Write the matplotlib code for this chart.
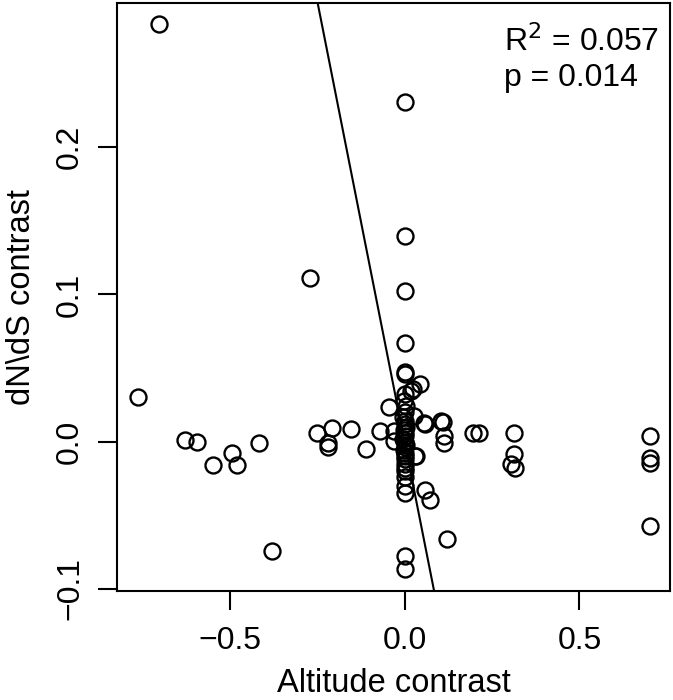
import matplotlib
matplotlib.use("Agg")
import matplotlib.pyplot as plt

plt.rcParams['font.family'] = ['Liberation Sans', 'DejaVu Sans']

# points off the x=0 column
alt_side = [-0.763, -0.703, -0.629, -0.593, -0.548, -0.492, -0.478, -0.416, -0.378,
            -0.271, -0.249, -0.208, -0.219, -0.219, -0.152, -0.111, -0.071, -0.043,
            -0.029, -0.029, 0.019, 0.024, 0.026, 0.029, 0.033, 0.043, 0.057, 0.058,
            0.058, 0.073, 0.105, 0.110, 0.113, 0.114, 0.122, 0.195, 0.214,
            0.314, 0.314, 0.305, 0.316, 0.702, 0.702, 0.702, 0.702]
dnds_side = [0.0301, 0.2837, 0.0012, 0.0000, -0.0161, -0.0080, -0.0159, -0.0011, -0.0746,
             0.1110, 0.0061, 0.0091, -0.0009, -0.0039, 0.0088, -0.0050, 0.0075, 0.0233,
             0.0075, 0.0007, 0.0347, 0.0358, 0.0177, -0.0095, -0.0095, 0.0392, 0.0125, 0.0120,
             -0.0327, -0.0395, 0.0138, 0.0131, 0.0041, -0.0010, -0.0662, 0.0058, 0.0058,
             0.0059, -0.0084, -0.0152, -0.0179, 0.0041, -0.0111, -0.0147, -0.0571]

# dense column at altitude contrast ~ 0
alt_col = [0.0, 0.0, 0.0, 0.0, 0.0, 0.0, 0.002, -0.002, 0.003, 0.0, -0.003, 0.002,
           0.0, 0.003, -0.002, 0.0, 0.002, -0.003, 0.0, 0.003, 0.0, -0.002, 0.002,
           0.0, 0.0, 0.0, 0.0, 0.0, 0.0, 0.0, 0.0, 0.0, 0.0]
dnds_col = [0.2306, 0.1395, 0.1020, 0.0669, 0.0476, 0.0460, 0.0324, 0.0279, 0.0240,
            0.0200, 0.0170, 0.0140, 0.0120, 0.0100, 0.0080, 0.0060, 0.0040, 0.0020,
            0.0000, -0.0020, -0.0040, -0.0060, -0.0080, -0.0100, -0.0120, -0.0150,
            -0.0180, -0.0200, -0.0240, -0.0300, -0.0350, -0.0780, -0.0866]

slope = -1.2
intercept = 0.0

fig = plt.figure(figsize=(6.73, 7.0), dpi=100)
ax = fig.add_axes([117/673, 109/700, 553/673, 588/700])

ax.plot(alt_side + alt_col, dnds_side + dnds_col, 'o', ms=11.5, mfc='none',
        mec='black', mew=1.7, ls='none')

ax.set_xlim(-0.822, 0.759)
ax.set_ylim(-0.1015, 0.298)
ax.axline((0, intercept), slope=slope, color='black', lw=1.5)

ax.set_xticks([-0.5, 0.0, 0.5])
ax.set_xticklabels(['\u22120.5', '0.0', '0.5'])
ax.set_yticks([-0.1, 0.0, 0.1, 0.2])
ax.set_yticklabels(['\u22120.1', '0.0', '0.1', '0.2'], rotation=90, va='center')
ax.tick_params(labelsize=23, length=14, width=1.5)
ax.tick_params(axis='x', pad=11)
ax.tick_params(axis='y', pad=9)
for s in ax.spines.values():
    s.set_linewidth(1.5)

ax.set_xlabel('Altitude contrast', fontsize=23.5, labelpad=9)
ax.set_ylabel('dN\\dS contrast', fontsize=23.5, labelpad=13)

ax.text(0.70, 0.935, 'R$^2$ = 0.057', transform=ax.transAxes, fontsize=23,
        ha='left', va='center')
ax.text(0.70, 0.873, 'p = 0.014', transform=ax.transAxes, fontsize=23,
        ha='left', va='center')

fig.savefig('out.png', dpi=100)
